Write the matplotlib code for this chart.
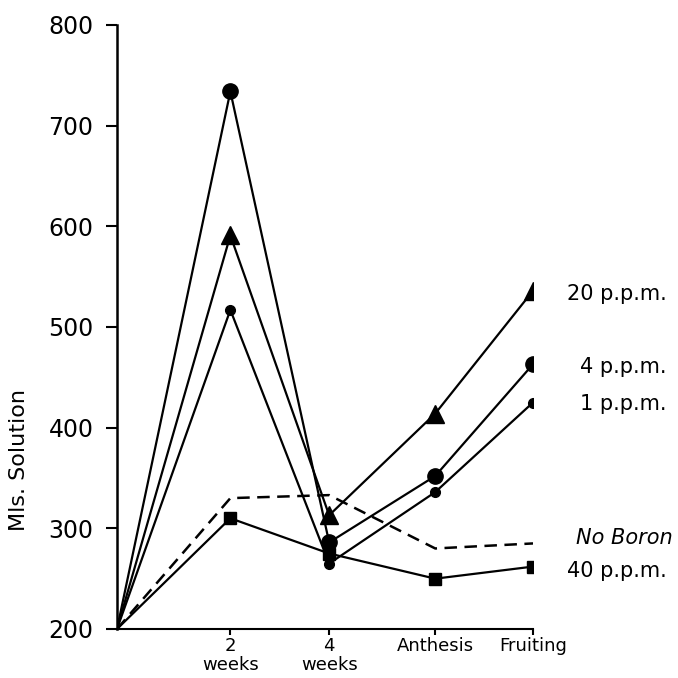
import matplotlib
matplotlib.use('Agg')
import matplotlib.pyplot as plt

# growth stages along the x axis
stages = ['', '2\nweeks', '4\nweeks', 'Anthesis', 'Fruiting']
stage_x = [0, 1.09, 2.04, 3.06, 4.0]

# mls. solution
ppm40 = [200, 310, 275, 250, 262]
no_boron = [200, 330, 333, 280, 285]
ppm1 = [200, 517, 265, 336, 425]
ppm4 = [200, 734, 286, 352, 463]
ppm20 = [200, 591, 313, 414, 536]

fig = plt.figure(figsize=(6.78, 6.78), dpi=100)
ax = fig.add_axes([117/678, 1 - 629/678, 416/678, 604/678])

lw = 1.6
ax.plot(stage_x, ppm40, color='black', lw=lw, marker='s', markersize=9,
        markevery=[1, 2, 3, 4])
ax.plot(stage_x, no_boron, color='black', lw=1.8, linestyle=(0, (5, 3)))
ax.plot(stage_x, ppm1, color='black', lw=lw, marker='o', markersize=7,
        markevery=[1, 2, 3, 4])
ax.plot(stage_x, ppm4, color='black', lw=lw, marker='o', markersize=11,
        markevery=[1, 2, 3, 4])
ax.plot(stage_x, ppm20, color='black', lw=lw, marker='^', markersize=13,
        markevery=[1, 2, 3, 4])

# labels at the right end of each line (dy in pixels, up is positive)
labels = [('20 p.p.m.', ppm20, -3, 'normal'),
          ('4 p.p.m.', ppm4, -3, 'normal'),
          ('1 p.p.m.', ppm1, -2, 'normal'),
          ('No Boron', no_boron, 5, 'italic'),
          ('40 p.p.m.', ppm40, -4, 'normal')]
for txt, ser, dy, st in labels:
    dx = 140 if st == 'italic' else 134
    ax.annotate(txt, (stage_x[-1], ser[-1]), xytext=(dx, dy),
                textcoords='offset pixels', ha='right', va='center',
                fontsize=15, style=st, annotation_clip=False)

ax.set_xlim(0, 4)
ax.set_ylim(200, 800)
ax.set_yticks([200, 300, 400, 500, 600, 700, 800])
ax.set_xticks(stage_x[1:])
ax.set_xticklabels(stages[1:])
for lab in ax.get_xticklabels():
    lab.set_linespacing(1.05)

ax.tick_params(axis='y', labelsize=17, length=8, width=1.5, pad=9)
ax.tick_params(axis='x', labelsize=13, length=4, width=1.5, pad=2)

ax.spines['top'].set_visible(False)
ax.spines['right'].set_visible(False)
ax.spines['left'].set_linewidth(1.8)
ax.spines['bottom'].set_linewidth(1.5)

fig.text(19/678, 1 - 460/678, 'Mls. Solution', rotation=90,
         ha='center', va='center', fontsize=16)

fig.savefig('out.png', dpi=100)
